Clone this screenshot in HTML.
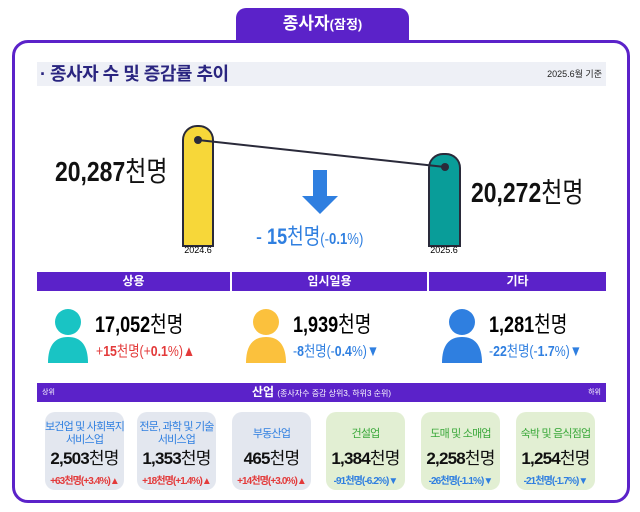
<!DOCTYPE html><html><head><meta charset="utf-8"><style>
body{margin:0;width:640px;height:512px;background:#fff;font-family:"Liberation Sans","Noto Sans CJK KR",sans-serif;position:relative;overflow:hidden}
.a{position:absolute;white-space:nowrap}
.sx{transform-origin:0 50%;transform:scaleX(0.82)}
.cc{transform-origin:50% 50%;transform:scaleX(0.82)}
.card{position:absolute;top:412px;width:79px;height:78px;border-radius:10px;text-align:center;white-space:nowrap}
.card .t{font-size:11px;line-height:13px;margin-top:8px;height:28px;display:flex;align-items:center;justify-content:center;letter-spacing:-0.8px}
.card .v{font-size:17px;line-height:20px;color:#111;letter-spacing:-0.8px;margin-top:1px}
.card .c{font-size:10px;font-weight:bold;letter-spacing:-0.9px;margin-top:3px}
.hb{position:absolute;top:272px;height:19px;background:#5b22c9;color:#fff;font-size:12px;font-weight:bold;text-align:center;line-height:19px}
</style></head><body>
<div class="a" style="left:236px;top:8px;width:173px;height:36px;background:#5b22c9;border-radius:10px 10px 0 0;color:#fff;font-size:17px;font-weight:bold;text-align:center;line-height:32px">종사자<span style="font-size:13px">(잠정)</span></div>
<div class="a" style="left:12px;top:40px;width:612px;height:457px;border:3px solid #5b22c9;border-radius:16px;background:#fff"></div>
<div class="a" style="left:37px;top:62px;width:569px;height:24px;background:#eef0f6"></div>
<div class="a" style="left:40px;top:62px;font-size:18px;font-weight:bold;line-height:24px;color:#2a2580;letter-spacing:-0.5px">· 종사자 수 및 증감률 추이</div>
<div class="a" style="left:500px;top:62px;width:102px;text-align:right;font-size:9px;line-height:24px;color:#222">2025.6월 기준</div>
<div class="a" style="left:182px;top:125px;width:28px;height:118px;background:#f7d739;border:2px solid #2a2a3a;border-radius:15px 15px 0 0"></div>
<div class="a" style="left:428px;top:153px;width:29px;height:90px;background:#099d99;border:2px solid #2a2a3a;border-radius:15px 15px 0 0"></div>
<svg class="a" style="left:0;top:0" width="640" height="512"><line x1="198" y1="140" x2="445" y2="167" stroke="#2a2a3a" stroke-width="2"/><circle cx="198" cy="140" r="4" fill="#2a2a3a"/><circle cx="445" cy="167" r="4" fill="#2a2a3a"/><polygon points="313,170 327,170 327,196 338,196 320,214 302,196 313,196" fill="#2f7fe0"/></svg>
<div class="a sx" style="left:55px;top:155px;font-size:28px;line-height:34px;color:#111"><b>20,287</b>천명</div>
<div class="a sx" style="left:471px;top:176px;font-size:28px;line-height:34px;color:#111"><b>20,272</b>천명</div>
<div class="a sx" style="left:256px;top:224px;font-size:22px;line-height:26px;color:#2f7fe0">- <b>15</b>천명<span style="font-size:16px">(-<b>0.1</b>%)</span></div>
<div class="a" style="left:178px;top:245px;width:40px;text-align:center;font-size:9px">2024.6</div>
<div class="a" style="left:424px;top:245px;width:40px;text-align:center;font-size:9px">2025.6</div>
<div class="hb" style="left:37px;width:193px">상용</div>
<div class="hb" style="left:232px;width:195px">임시일용</div>
<div class="hb" style="left:429px;width:177px">기타</div>
<svg class="a" style="left:0;top:0" width="640" height="512">
<g fill="#19c4c4"><circle cx="68" cy="322" r="13"/><path d="M48 363 Q48 337 68 337 Q88 337 88 363Z"/></g>
<g fill="#fbc13d"><circle cx="266" cy="322" r="13"/><path d="M246 363 Q246 337 266 337 Q286 337 286 363Z"/></g>
<g fill="#2f7fe0"><circle cx="462" cy="322" r="13"/><path d="M442 363 Q442 337 462 337 Q482 337 482 363Z"/></g></svg>
<div class="a sx" style="left:95px;top:312px;font-size:22px;line-height:26px"><b>17,052</b>천명</div>
<div class="a sx" style="left:96px;top:343px;font-size:15px;line-height:18px;color:#e33a3a">+<b>15</b>천명(+<b>0.1</b>%)▲</div>
<div class="a sx" style="left:293px;top:312px;font-size:22px;line-height:26px"><b>1,939</b>천명</div>
<div class="a sx" style="left:293px;top:343px;font-size:15px;line-height:18px;color:#2f7fe0">-<b>8</b>천명(-<b>0.4</b>%)▼</div>
<div class="a sx" style="left:489px;top:312px;font-size:22px;line-height:26px"><b>1,281</b>천명</div>
<div class="a sx" style="left:489px;top:343px;font-size:15px;line-height:18px;color:#2f7fe0">-<b>22</b>천명(-<b>1.7</b>%)▼</div>
<div class="a" style="left:37px;top:383px;width:569px;height:19px;background:#5b22c9;color:#fff;line-height:19px">
<span class="a" style="left:5px;font-size:7px">상위</span><span class="a" style="right:5px;font-size:7px">하위</span>
<div style="text-align:center;font-size:12px"><b>산업</b> <span style="font-size:8px">(종사자수 증감 상위3, 하위3 순위)</span></div></div>
<div class="card" style="left:45px;background:#e3e7ef"><div class="t" style="color:#2f7fe0">보건업 및 사회복지<br>서비스업</div><div class="v"><b>2,503</b>천명</div><div class="c" style="color:#e33a3a">+63천명(+3.4%)▲</div></div>
<div class="card" style="left:137px;background:#e3e7ef"><div class="t" style="color:#2f7fe0">전문, 과학 및 기술<br>서비스업</div><div class="v"><b>1,353</b>천명</div><div class="c" style="color:#e33a3a">+18천명(+1.4%)▲</div></div>
<div class="card" style="left:232px;background:#e3e7ef"><div class="t" style="color:#2f7fe0">부동산업</div><div class="v"><b>465</b>천명</div><div class="c" style="color:#e33a3a">+14천명(+3.0%)▲</div></div>
<div class="card" style="left:326px;background:#e2efd3"><div class="t" style="color:#3aa83a">건설업</div><div class="v"><b>1,384</b>천명</div><div class="c" style="color:#2f7fe0">-91천명(-6.2%)▼</div></div>
<div class="card" style="left:421px;background:#e2efd3"><div class="t" style="color:#3aa83a">도매 및 소매업</div><div class="v"><b>2,258</b>천명</div><div class="c" style="color:#2f7fe0">-26천명(-1.1%)▼</div></div>
<div class="card" style="left:516px;background:#e2efd3"><div class="t" style="color:#3aa83a">숙박 및 음식점업</div><div class="v"><b>1,254</b>천명</div><div class="c" style="color:#2f7fe0">-21천명(-1.7%)▼</div></div>
</body></html>
